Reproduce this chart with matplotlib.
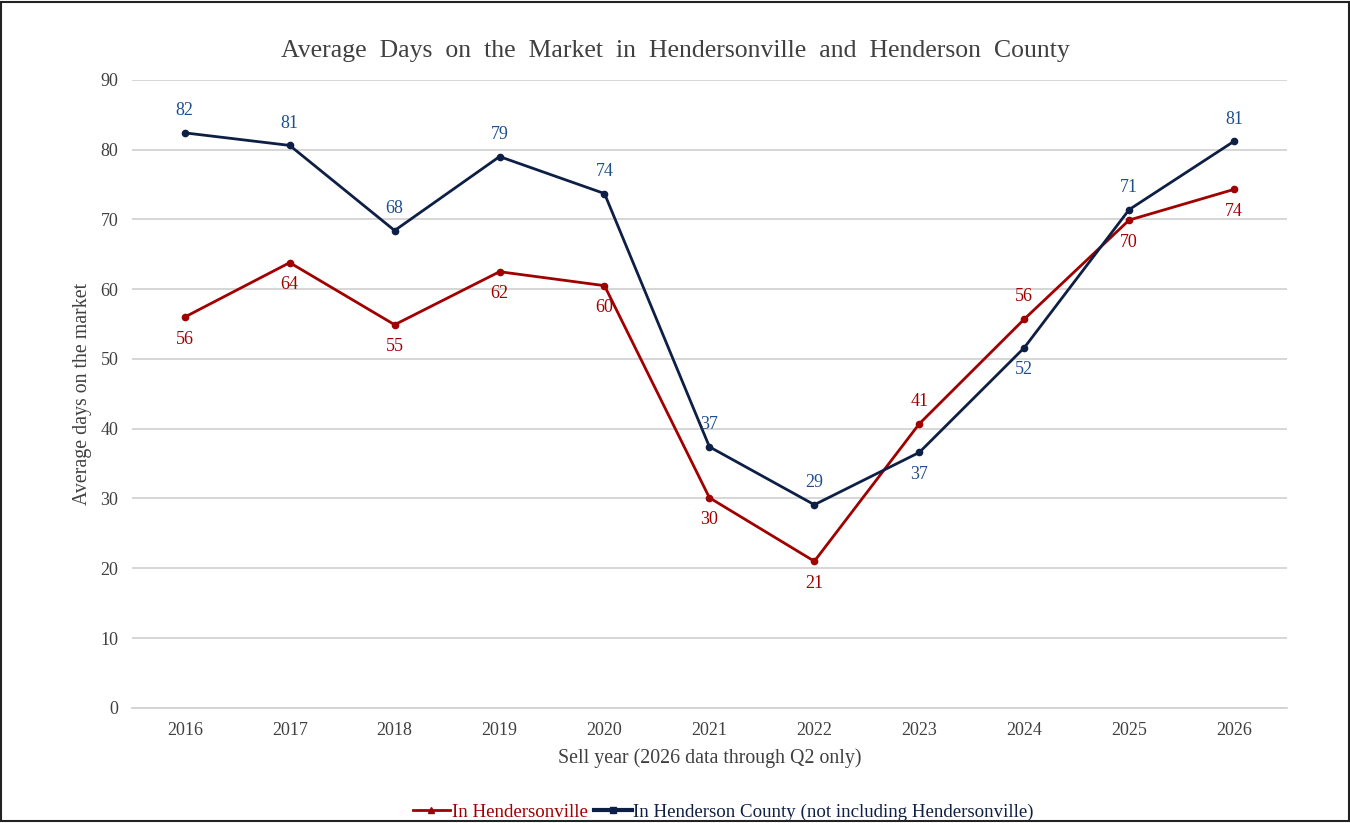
import matplotlib.pyplot as plt
from matplotlib.patches import Rectangle

plt.rcParams['font.family'] = ['Liberation Serif', 'DejaVu Serif']

years = [2016, 2017, 2018, 2019, 2020, 2021, 2022, 2023, 2024, 2025, 2026]
hendersonville = [56.0, 63.8, 54.9, 62.5, 60.5, 30.1, 21.0, 40.7, 55.7, 69.9, 74.3]
county = [82.4, 80.6, 68.4, 79.0, 73.7, 37.4, 29.1, 36.6, 51.6, 71.4, 81.2]
# label placement: +1 above, -1 below
hv_pos = [-1, -1, -1, -1, -1, -1, -1, 1, 1, -1, -1]
co_pos = [1, 1, 1, 1, 1, 1, 1, -1, -1, 1, 1]

red = '#a00000'
navy = '#0e1f45'
blue_txt = '#1f4e8c'

fig = plt.figure(figsize=(13.5, 8.23), dpi=100)
ax = fig.add_axes([0.098, 0.140, 0.855, 0.763])

ax.plot(years, hendersonville, color=red, lw=2, marker='o', ms=4.5,
        label='In Hendersonville')
ax.plot(years, county, color=navy, lw=2, marker='o', ms=4.5,
        label='In Henderson County (not including Hendersonville)')

for x, v, p in zip(years, hendersonville, hv_pos):
    ax.annotate(f'{v:.0f}', (x, v), xytext=(0, 16 * p), textcoords='offset points',
                ha='center', va='center', color=red, fontsize=13)
for x, v, p in zip(years, county, co_pos):
    ax.annotate(f'{v:.0f}', (x, v), xytext=(0, 16 * p), textcoords='offset points',
                ha='center', va='center', color=blue_txt, fontsize=13)

ax.set_xlim(2015.5, 2026.5)
ax.set_ylim(0, 90)
ax.set_yticks(range(0, 91, 10))
ax.set_xticks(years)
ax.grid(axis='y', color='#d0d0d0', lw=1.2)
ax.set_axisbelow(True)
for s in ['top', 'right', 'left']:
    ax.spines[s].set_visible(False)
ax.spines['bottom'].set_color('#d0d0d0')
ax.spines['bottom'].set_linewidth(1.2)
ax.tick_params(length=0, labelsize=13, colors='#404040', pad=10)

ax.set_xlabel('Sell year (2026 data through Q2 only)', fontsize=14.3, color='#404040', labelpad=7)
ax.set_ylabel('Average days on the market', fontsize=14.3, color='#404040', labelpad=6)
fig.suptitle('Average  Days  on  the  Market  in  Hendersonville  and  Henderson  County',
             y=0.952, fontsize=18.5, color='#404040')

leg = ax.legend(loc='lower center', bbox_to_anchor=(0.512, -0.207), ncol=2, frameon=False,
                fontsize=13.6, handlelength=2.0, handletextpad=0.1, columnspacing=0.3)
leg.legend_handles[0].set_marker('^')
leg.legend_handles[0].set_markersize(4)
leg.legend_handles[1].set_marker('s')
leg.legend_handles[1].set_markersize(5)
leg.legend_handles[1].set_linewidth(3)
leg.get_texts()[0].set_color(red)
leg.get_texts()[1].set_color(navy)

fig.patches.append(Rectangle((0.001, 0.002), 0.998, 0.996, transform=fig.transFigure,
                             fill=False, edgecolor='#222222', lw=1.5))

fig.savefig('out.png', dpi=100)
